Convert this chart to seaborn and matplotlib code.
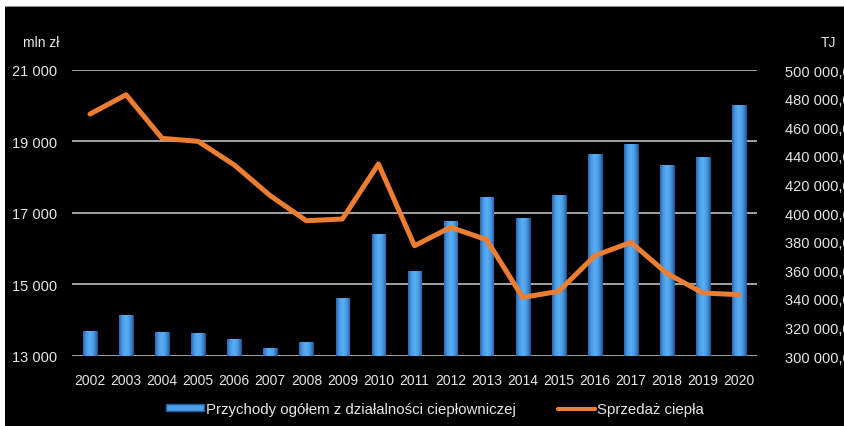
import matplotlib
matplotlib.use("Agg")
import matplotlib.pyplot as plt
import seaborn as sns
import numpy as np
import pandas as pd
from matplotlib.patches import Rectangle, Patch
from matplotlib.lines import Line2D
from matplotlib.colors import LinearSegmentedColormap

years = [str(y) for y in range(2002, 2021)]
revenue = [13710, 14150, 13680, 13635, 13475, 13230, 13400, 14610, 16410, 15390,
           16770, 17440, 16850, 17500, 18650, 18920, 18330, 18570, 20030]
heat_sales = [469200, 482700, 452200, 450100, 433600, 412100, 394600, 395800, 434300, 377100,
              390000, 381300, 341000, 345200, 370100, 379500, 357800, 344000, 342900]
left_ticks = [13000, 15000, 17000, 19000, 21000]
right_ticks = list(range(300000, 500001, 20000))
legend_labels = ["Przychody ogółem z działalności ciepłowniczej", "Sprzedaż ciepła"]

sns.set_theme(style="dark")
plt.rcParams['font.family'] = ['Liberation Sans', 'DejaVu Sans']

df = pd.DataFrame({"year": years, "revenue": revenue, "heat": heat_sales})

W, H = 844, 427
fig = plt.figure(figsize=(W / 100, H / 100), dpi=100, facecolor="black")
# white frame strips at top and left, as in the reference screenshot
fig.patches.append(Rectangle((0, 1 - 7 / H), 1, 7 / H, transform=fig.transFigure,
                             facecolor="white", edgecolor="none", zorder=-10))
fig.patches.append(Rectangle((0, 1 - 8 / H), 1, 1 / H, transform=fig.transFigure,
                             facecolor="#8a8a8a", edgecolor="none", zorder=-9))
fig.patches.append(Rectangle((0, 0), 5 / W, 1, transform=fig.transFigure,
                             facecolor="white", edgecolor="none", zorder=-8))

ax = fig.add_axes([72 / W, 1 - 357 / H, (757 - 72) / W, (357 - 71) / H])
ax.set_facecolor("black")

ymin, ymax = left_ticks[0], left_ticks[-1]
sns.barplot(data=df, x="year", y="revenue", color="#3d8fdf", width=0.38,
            edgecolor="#1f5d99", linewidth=0.5, saturation=1, ax=ax, zorder=3)
ax.set_ylim(ymin, ymax)
ax.set_xlim(-0.5, len(years) - 0.5)

# cylinder-like horizontal gradient inside each bar (clipped to the bar patch)
grad_cmap = LinearSegmentedColormap.from_list(
    "bargrad", ["#2a68ad", "#4a9de8", "#5aaef2", "#4a9de8", "#2a68ad"])
grad = np.linspace(0, 1, 64).reshape(1, -1)
for bar in list(ax.patches):
    x0, w = bar.get_x(), bar.get_width()
    top = bar.get_y() + bar.get_height()
    im = ax.imshow(grad, cmap=grad_cmap, aspect="auto",
                   extent=(x0, x0 + w, ymin, top),
                   zorder=3.5, interpolation="bilinear")
    im.set_clip_path(bar)
ax.set_ylim(ymin, ymax)
ax.set_xlim(-0.5, len(years) - 0.5)

ax.set_yticks(left_ticks)
ax.set_yticklabels([f"{v:,}".replace(",", " ") for v in left_ticks])
for v in left_ticks:
    ax.axhline(v, color="#b0b0b0", lw=1.3, zorder=1)
ax.grid(False)
for s in ax.spines.values():
    s.set_visible(False)
ax.tick_params(axis="y", colors="#e6e6e6", labelsize=10.5, length=0, pad=11)
ax.tick_params(axis="x", colors="#e6e6e6", labelsize=10, length=0, pad=12)
ax.set_xlabel("")
ax.set_ylabel("")

ax2 = ax.twinx()
sns.lineplot(data=df, x="year", y="heat", color="#ed7d31", lw=3.6, ax=ax2,
             sort=False, zorder=5)
ax2.set_ylim(right_ticks[0], right_ticks[-1])
ax2.set_yticks(right_ticks)
ax2.set_yticklabels([f"{v:,}".replace(",", " ") + ",0" for v in right_ticks])
ax2.tick_params(axis="y", colors="#e6e6e6", labelsize=10.5, length=0, pad=20)
ax2.grid(False)
for s in ax2.spines.values():
    s.set_visible(False)
ax2.set_ylabel("")
ax2.set_xlabel("")

fig.text(23 / W, 1 - 43 / H, "mln zł", color="#e6e6e6", fontsize=10, va="center", ha="left")
fig.text(821 / W, 1 - 43 / H, "TJ", color="#e6e6e6", fontsize=10, va="center", ha="left")

handles = [Patch(facecolor="#4a9de8", edgecolor="#1f5d99"),
           Line2D([0], [0], color="#ed7d31", lw=3)]
leg = fig.legend(handles, legend_labels, loc="center left",
                 bbox_to_anchor=(166 / W, 1 - 410 / H),
                 ncol=2, frameon=False, fontsize=10.8, labelcolor="#e6e6e6",
                 handlelength=2.5, handleheight=0.35, handletextpad=0.15,
                 columnspacing=2.8, borderpad=0, borderaxespad=0)

fig.savefig("out.png", dpi=100, facecolor=fig.get_facecolor())
